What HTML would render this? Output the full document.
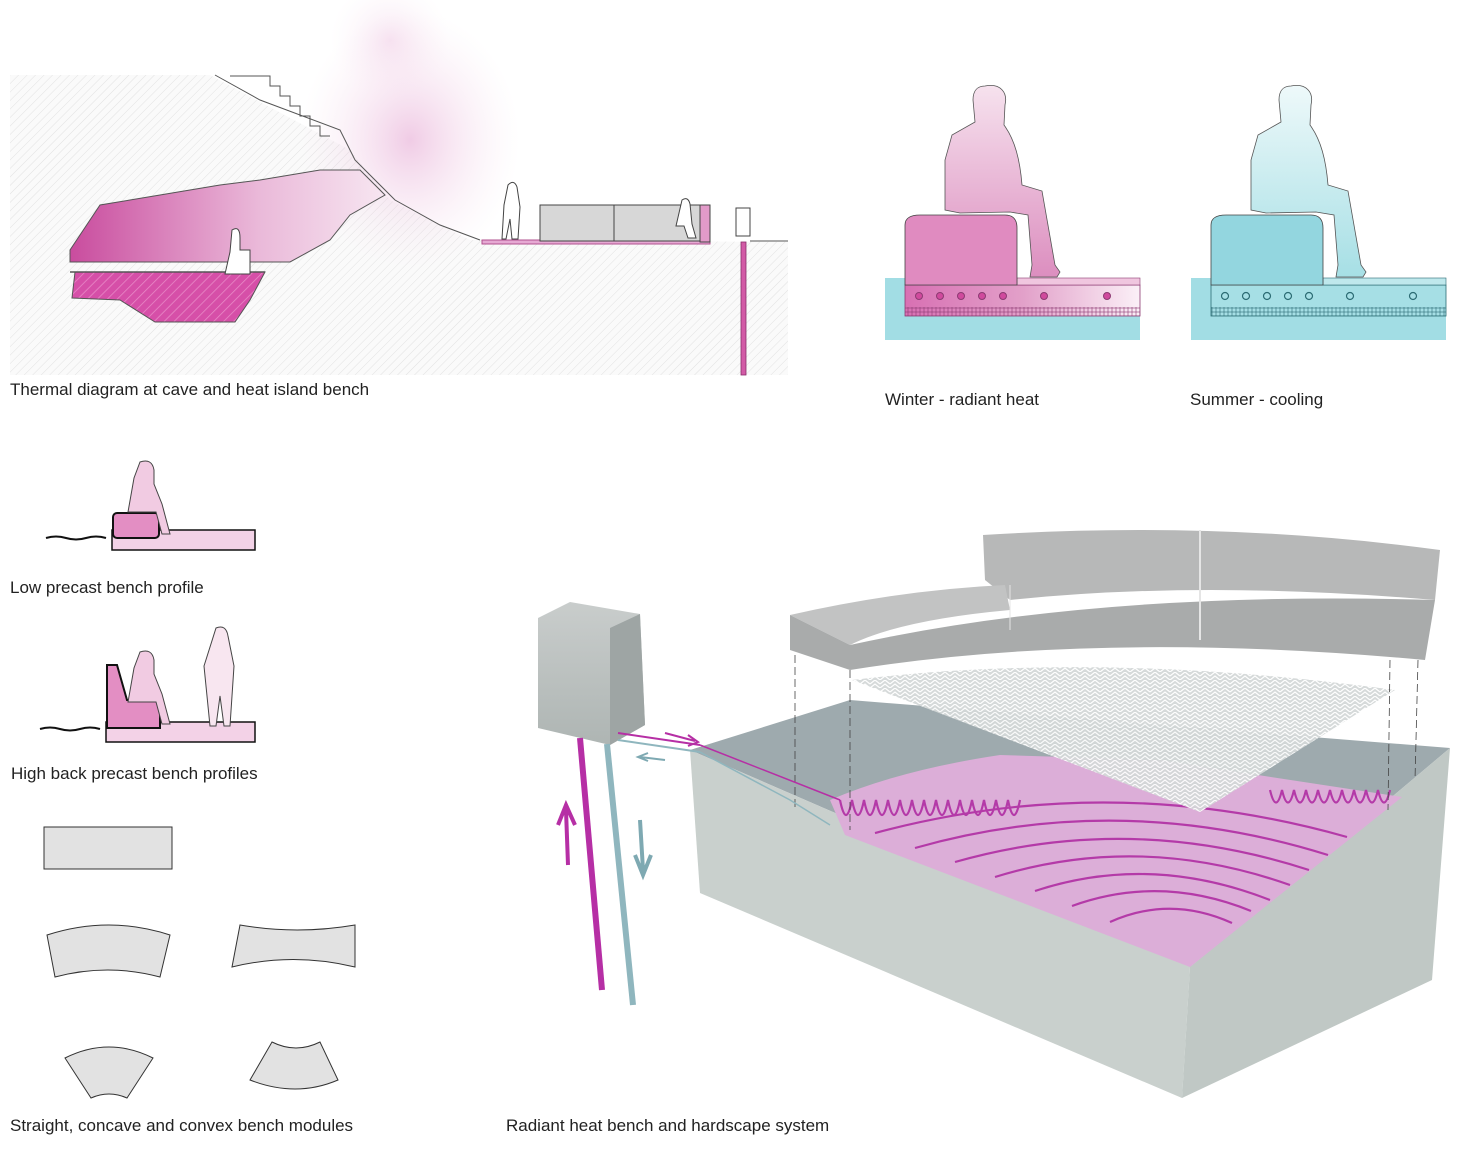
<!DOCTYPE html>
<html><head><meta charset="utf-8"><style>
html,body{margin:0;padding:0;background:#fff;}
svg{display:block;}
text{font-family:"Liberation Sans",sans-serif;font-size:17px;fill:#222;}
</style></head><body>
<svg width="1462" height="1160" viewBox="0 0 1462 1160" xmlns="http://www.w3.org/2000/svg">
<defs>
<pattern id="hatch" width="6" height="6" patternUnits="userSpaceOnUse" patternTransform="rotate(45)">
<rect width="6" height="6" fill="#fafafa"/><line x1="0" y1="0" x2="0" y2="6" stroke="#e2e2e2" stroke-width="1"/></pattern>
<pattern id="phatch" width="7" height="7" patternUnits="userSpaceOnUse" patternTransform="rotate(45)">
<rect width="7" height="7" fill="#d64fa8"/><line x1="0" y1="0" x2="0" y2="7" stroke="#e98cc8" stroke-width="1.5"/></pattern>
<radialGradient id="mist" cx="0.5" cy="0.5" r="0.5"><stop offset="0" stop-color="#e6a9d4" stop-opacity="0.6"/><stop offset="1" stop-color="#f6e0ee" stop-opacity="0"/></radialGradient>
<linearGradient id="cave" x1="0" x2="1"><stop offset="0" stop-color="#c94c9e"/><stop offset="0.6" stop-color="#eab9d9"/><stop offset="1" stop-color="#f7e6f1"/></linearGradient>
<linearGradient id="wperson" x1="0" y1="0" x2="0" y2="1"><stop offset="0" stop-color="#f6e2ee"/><stop offset="1" stop-color="#dc8ebf"/></linearGradient>
<linearGradient id="sperson" x1="0" y1="0" x2="0" y2="1"><stop offset="0" stop-color="#eef9fa"/><stop offset="1" stop-color="#a6dfe5"/></linearGradient>
<linearGradient id="wslab" x1="0" x2="1"><stop offset="0" stop-color="#d870b3"/><stop offset="0.5" stop-color="#e2a0c9"/><stop offset="1" stop-color="#fbf0f7"/></linearGradient>
<linearGradient id="boxg" x1="0" y1="0" x2="0" y2="1"><stop offset="0" stop-color="#c9cdcc"/><stop offset="1" stop-color="#aeb5b3"/></linearGradient>
<pattern id="mesh" width="10" height="8" patternUnits="userSpaceOnUse"><rect width="10" height="8" fill="#d4d8d8"/><path d="M0 4 L5 0 L10 4 M0 8 L5 4 L10 8" stroke="#fff" stroke-width="1.2" fill="none"/></pattern>
<pattern id="grid" width="4" height="4" patternUnits="userSpaceOnUse"><rect width="4" height="4" fill="none" stroke="#8c3a72" stroke-width="0.6"/></pattern>
<pattern id="gridb" width="4" height="4" patternUnits="userSpaceOnUse"><rect width="4" height="4" fill="none" stroke="#2c6c74" stroke-width="0.6"/></pattern>
</defs>

<!-- top-left section -->
<rect x="10" y="75" width="778" height="300" fill="url(#hatch)"/>
<path d="M210 75 L350 150 L390 200 L470 240 L788 242 L788 75 Z" fill="#fff"/>
<ellipse cx="410" cy="140" rx="110" ry="130" fill="url(#mist)"/>
<ellipse cx="390" cy="40" rx="60" ry="60" fill="url(#mist)" opacity="0.5"/>
<path d="M215 75 L260 100 L340 130 L355 160 L395 200 L440 225 L480 240" fill="none" stroke="#555" stroke-width="1"/>
<path d="M230 76 h40 v10 h10 v10 h10 v10 h10 v10 h10 v10 h10 v10 h10" fill="none" stroke="#555" stroke-width="1"/>
<path d="M70 250 L100 205 L160 195 L220 185 L260 180 L320 170 L360 170 L385 195 L350 215 L330 240 L290 262 L70 262 Z" fill="url(#cave)" stroke="#555"/>
<path d="M75 272 L265 272 L250 300 L235 322 L155 322 L120 300 L72 298 Z" fill="url(#phatch)" stroke="#555"/>
<line x1="70" y1="272" x2="265" y2="272" stroke="#555" stroke-width="1.5"/>
<path d="M232 230 q8-5 8 8 l0 12 l10 0 l0 24 l-25 0 l5-22 z" fill="#fff" stroke="#444"/>
<rect x="482" y="240" width="228" height="4" fill="#e6a9d3" stroke="#b0508f"/>
<rect x="540" y="205" width="168" height="36" fill="#d7d7d7" stroke="#444"/>
<line x1="614" y1="205" x2="614" y2="241" stroke="#444"/>
<rect x="700" y="205" width="10" height="37" fill="#e29ac9" stroke="#444"/>
<path d="M508 185 q6-6 9 2 l3 20 l-2 32 h-6 l-2-20 l-4 20 h-4 l2-34 z" fill="#fff" stroke="#444"/>
<path d="M682 200 q6-4 8 4 l2 20 l4 14 h-8 l-4-12 h-8 z" fill="#fff" stroke="#444"/>
<rect x="736" y="208" width="14" height="28" fill="#fff" stroke="#444"/>
<rect x="741" y="242" width="5" height="133" fill="#d25aa6" stroke="#8a2c6b" stroke-width="0.8"/>
<line x1="750" y1="241" x2="788" y2="241" stroke="#555"/>
<text x="10" y="395">Thermal diagram at cave and heat island bench</text>

<!-- winter -->
<rect x="885" y="278" width="255" height="62" fill="#a2dde4"/>
<rect x="905" y="285" width="235" height="31" fill="url(#wslab)" stroke="#8c3a72" stroke-width="0.8"/>
<rect x="905" y="307" width="235" height="9" fill="url(#grid)"/>
<rect x="1017" y="278" width="123" height="7" fill="#f0c6df" stroke="#8c3a72" stroke-width="0.6"/>
<path d="M905 285 L905 225 Q905 215 920 215 L1005 215 Q1017 215 1017 228 L1017 285 Z" fill="#e08bc0" stroke="#444" stroke-width="0.8"/>
<path d="M985 86 C1000 83 1008 92 1005 105 L1004 125 C1015 140 1020 160 1022 185 L1042 191 L1055 265 L1060 272 L1057 277 L1030 277 L1032 265 L1028 215 L1010 212 L960 213 L945 210 L945 160 L952 135 L975 122 L973 100 C973 90 978 86 985 86 Z" fill="url(#wperson)" stroke="#555" stroke-width="0.8"/>
<g fill="#d04a9d" stroke="#8c3a72" stroke-width="1"><circle cx="919" cy="296" r="3.5"/><circle cx="940" cy="296" r="3.5"/><circle cx="961" cy="296" r="3.5"/><circle cx="982" cy="296" r="3.5"/><circle cx="1003" cy="296" r="3.5"/><circle cx="1044" cy="296" r="3.5"/><circle cx="1107" cy="296" r="3.5"/></g>
<text x="885" y="405">Winter - radiant heat</text>

<!-- summer -->
<rect x="1191" y="278" width="255" height="62" fill="#a2dde4"/>
<rect x="1211" y="285" width="235" height="31" fill="#a6dfe5" stroke="#2c6c74" stroke-width="0.8"/>
<rect x="1211" y="307" width="235" height="9" fill="url(#gridb)"/>
<rect x="1323" y="278" width="123" height="7" fill="#bfe8ec" stroke="#2c6c74" stroke-width="0.6"/>
<path d="M1211 285 L1211 225 Q1211 215 1226 215 L1311 215 Q1323 215 1323 228 L1323 285 Z" fill="#93d6df" stroke="#444" stroke-width="0.8"/>
<path d="M1291 86 C1306 83 1314 92 1311 105 L1310 125 C1321 140 1326 160 1328 185 L1348 191 L1361 265 L1366 272 L1363 277 L1336 277 L1338 265 L1334 215 L1316 212 L1266 213 L1251 210 L1251 160 L1258 135 L1281 122 L1279 100 C1279 90 1284 86 1291 86 Z" fill="url(#sperson)" stroke="#555" stroke-width="0.8"/>
<g fill="none" stroke="#2c6c74" stroke-width="1.2"><circle cx="1225" cy="296" r="3.5"/><circle cx="1246" cy="296" r="3.5"/><circle cx="1267" cy="296" r="3.5"/><circle cx="1288" cy="296" r="3.5"/><circle cx="1309" cy="296" r="3.5"/><circle cx="1350" cy="296" r="3.5"/><circle cx="1413" cy="296" r="3.5"/></g>
<text x="1190" y="405">Summer - cooling</text>

<!-- low bench -->
<path d="M46 538 q10-3 20 0 t20 0 t20 0" fill="none" stroke="#111" stroke-width="2"/>
<rect x="112" y="530" width="143" height="20" fill="#f3d2e7" stroke="#111" stroke-width="1.5"/>
<rect x="113" y="513" width="46" height="25" rx="4" fill="#e38ec3" stroke="#111" stroke-width="2"/>
<path d="M140 462 q12-4 14 8 l0 14 l8 20 l8 30 h-8 l-6-22 h-28 l6-34 z" fill="#f1cbe2" stroke="#444"/>
<text x="10" y="593">Low precast bench profile</text>

<!-- high back -->
<path d="M40 729 q10-3 20 0 t20 0 t20 0" fill="none" stroke="#111" stroke-width="2"/>
<rect x="106" y="722" width="149" height="20" fill="#f3d2e7" stroke="#111" stroke-width="1.5"/>
<path d="M107 665 h10 l10 35 h33 v28 h-53 z" fill="#e38ec3" stroke="#111" stroke-width="2"/>
<path d="M140 652 q12-4 14 8 l0 14 l8 20 l8 30 h-8 l-6-22 h-28 l6-34 z" fill="#f1cbe2" stroke="#444"/>
<path d="M216 628 q10-4 12 8 l6 30 l-4 60 h-6 l-4-30 l-4 30 h-6 l-6-60 z" fill="#f8e6f0" stroke="#444"/>
<text x="11" y="779">High back precast bench profiles</text>

<!-- modules -->
<rect x="44" y="827" width="128" height="42" fill="#e2e2e2" stroke="#333"/>
<path d="M47 935 q62-20 123 0 l-10 42 q-52-14 -105 0 z" fill="#e2e2e2" stroke="#333"/>
<path d="M240 925 q57 10 115 0 l0 42 q-62-15 -123 0 z" fill="#e2e2e2" stroke="#333"/>
<path d="M65 1058 q44-22 88 0 l-26 40 q-18-8 -36 0 z" fill="#e2e2e2" stroke="#333"/>
<path d="M272 1042 q24 12 48 0 l18 38 q-42 18 -88 0 z" fill="#e2e2e2" stroke="#333"/>
<text x="10" y="1131">Straight, concave and convex bench modules</text>

<!-- 3D block -->
<path d="M690 750 L850 700 L1450 748 L1190 967 Z" fill="#9eaaae"/>
<path d="M690 750 L1190 967 L1182 1098 L700 893 Z" fill="#c9d0cd"/>
<path d="M1190 967 L1450 748 L1432 980 L1182 1098 Z" fill="#c0c8c5"/>
<path d="M830 800 Q900 770 1000 755 L1160 760 L1402 797 L1190 967 L845 835 Z" fill="#dcaed8"/>
<g fill="none" stroke="#b43aa8" stroke-width="2.2">
<path d="M875 833 Q1110 770 1347 837"/>
<path d="M915 848 Q1120 790 1328 855"/>
<path d="M955 862 Q1130 812 1309 870"/>
<path d="M995 877 Q1140 832 1290 885"/>
<path d="M1035 891 Q1150 853 1270 900"/>
<path d="M1072 906 Q1160 874 1251 911"/>
<path d="M1110 922 Q1170 895 1232 923"/>
<path d="M840 800 q6 30 12 0 q6 30 12 0 q6 30 12 0 q6 30 12 0 q6 30 12 0 q6 30 12 0 q6 30 12 0 q6 30 12 0 q6 30 12 0 q6 30 12 0 q6 30 12 0 q6 30 12 0 q6 30 12 0 q6 30 12 0 q6 30 12 0"/>
<path d="M1270 790 q6 25 12 0 q6 25 12 0 q6 25 12 0 q6 25 12 0 q6 25 12 0 q6 25 12 0 q6 25 12 0 q6 25 12 0 q6 25 12 0 q6 25 12 0"/>
</g>
<path d="M852 680 Q1100 650 1395 690 L1200 812 Z" fill="url(#mesh)" opacity="0.95"/>
<g stroke="#444" stroke-width="0.8" stroke-dasharray="8 4"><line x1="795" y1="655" x2="795" y2="810"/><line x1="850" y1="670" x2="850" y2="830"/><line x1="1390" y1="660" x2="1388" y2="810"/><line x1="1418" y1="660" x2="1415" y2="780"/></g>
<!-- bench -->
<path d="M983 535 Q1220 520 1440 550 L1435 600 Q1200 580 1010 600 L985 580 Z" fill="#b7b8b8"/>
<path d="M790 615 Q900 590 1005 585 L1010 610 Q900 620 850 645 Z" fill="#c2c3c3"/>
<path d="M790 615 L850 645 Q1100 590 1435 600 L1425 660 Q1100 630 850 670 L790 650 Z" fill="#a9abab"/>
<line x1="1200" y1="530" x2="1200" y2="640" stroke="#e5e5e5" stroke-width="2"/>
<line x1="1010" y1="585" x2="1010" y2="630" stroke="#e5e5e5" stroke-width="1"/>
<!-- control box & pipes -->
<path d="M538 618 L570 602 L640 614 L645 725 L610 745 L538 728 Z" fill="url(#boxg)"/>
<path d="M610 628 L640 614 L645 725 L610 745 Z" fill="#9ea5a4"/>
<line x1="580" y1="738" x2="602" y2="990" stroke="#b62fa5" stroke-width="6"/>
<line x1="607" y1="744" x2="633" y2="1005" stroke="#8fb6be" stroke-width="6"/>
<line x1="618" y1="733" x2="700" y2="745" stroke="#b62fa5" stroke-width="2"/>
<line x1="618" y1="740" x2="700" y2="752" stroke="#8fb6be" stroke-width="2"/>
<path d="M700 752 L790 800 L830 825" stroke="#8fb6be" stroke-width="1.5" fill="none"/>
<path d="M700 745 L840 800" stroke="#b62fa5" stroke-width="1.5" fill="none"/>
<path d="M568 865 L566 810 M558 825 L566 805 L575 825" stroke="#b62fa5" stroke-width="4" fill="none"/>
<path d="M640 820 L643 870 M635 855 L643 875 L651 855" stroke="#7ea9b2" stroke-width="4" fill="none"/>
<path d="M665 733 L695 741 M688 735 L698 742 L688 746" stroke="#b62fa5" stroke-width="2" fill="none"/>
<path d="M665 760 L640 757 M648 753 L638 757 L648 761" stroke="#7ea9b2" stroke-width="2" fill="none"/>
<text x="506" y="1131">Radiant heat bench and hardscape system</text>
</svg>
</body></html>
